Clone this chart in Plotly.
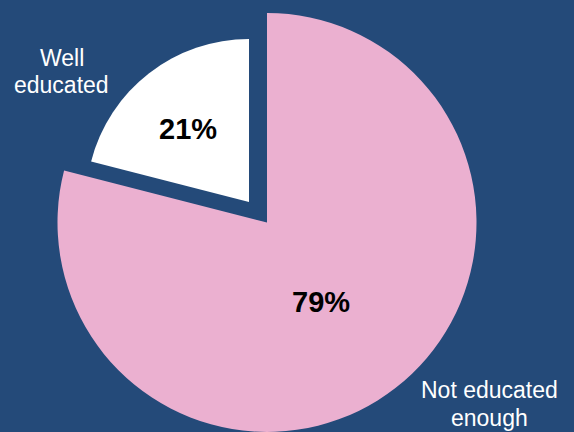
import plotly.graph_objects as go

labels = ["Not educated enough", "Well educated"]
label_lines = [["Not educated", "enough"], ["Well", "educated"]]
values = [79, 21]
colors = ["#ebb0d0", "#ffffff"]
bg = "#244a79"

W, H = 574, 432

def dom(cx, cy, r):
    return dict(x=[(cx - r) / W, (cx + r) / W],
                y=[max(0, 1 - (cy + r) / H), min(1, 1 - (cy - r) / H)])

pct = [f"{v}%" for v in values]

fig = go.Figure()
# main (pink) slice
fig.add_trace(go.Pie(
    labels=labels, values=values, sort=False, direction="clockwise", rotation=0,
    marker=dict(colors=[colors[0], "rgba(0,0,0,0)"], line=dict(width=0)),
    textinfo="none", domain=dom(267, 222.5, 209.5), showlegend=False,
    hoverinfo="label+percent",
))
# pulled-out (white) slice, drawn smaller
fig.add_trace(go.Pie(
    labels=labels, values=values, sort=False, direction="clockwise", rotation=0,
    marker=dict(colors=["rgba(0,0,0,0)", colors[1]], line=dict(width=0)),
    textinfo="none", domain=dom(249, 202, 163), showlegend=False,
    hoverinfo="label+percent",
))

pct_font = dict(family="Liberation Sans", size=29, color="black", weight="bold")
pct_pos = [(321, 302), (188, 129)]
for t, (px, py) in zip(pct, pct_pos):
    fig.add_annotation(text=t, x=px / W, y=1 - py / H, xref="paper", yref="paper",
                       showarrow=False, font=pct_font, xanchor="center", yanchor="middle")

lab_font = dict(family="Liberation Sans", size=23, color="white")
lab_pos = [[(489.5, 390), (489.5, 418)], [(61.5, 58), (61.5, 85)]]
for lines, poss in zip(label_lines, lab_pos):
    for t, (px, py) in zip(lines, poss):
        fig.add_annotation(text=t, x=px / W, y=1 - py / H, xref="paper", yref="paper",
                           showarrow=False, font=lab_font, xanchor="center", yanchor="middle")

fig.update_layout(width=W, height=H, margin=dict(l=0, r=0, t=0, b=0),
                  paper_bgcolor=bg, plot_bgcolor=bg)
fig.write_html("out.html")
